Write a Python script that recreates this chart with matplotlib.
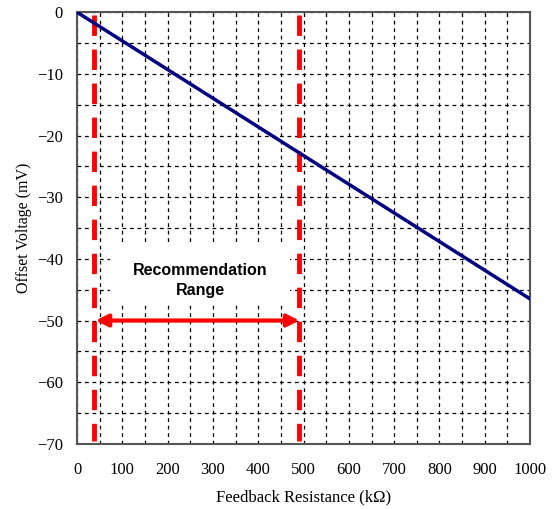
import numpy as np
import matplotlib.pyplot as plt
from matplotlib.patches import Rectangle

# data
resistance = [0, 1000]          # kOhm
offset = [0, -46.5]             # mV
range_lo = 38
range_hi = 489
arrow_y = -50

plt.rcParams['font.family'] = ['Liberation Serif', 'DejaVu Serif']

fig = plt.figure(figsize=(5.58, 5.09), dpi=100)
ax = fig.add_axes([0.138, 0.128, 0.812, 0.848])

ax.set_xlim(0, 1000)
ax.set_ylim(-70, 0)
ax.set_xticks(np.arange(0, 1001, 100))
ax.set_yticks(np.arange(-70, 1, 10))
ax.set_xticks(np.arange(0, 1001, 50), minor=True)
ax.set_yticks(np.arange(-70, 1, 5), minor=True)
ax.grid(which='both', color='black', linestyle=(0, (3, 3)), linewidth=0.9)
ax.tick_params(which='both', length=0, labelsize=12)
ax.tick_params(axis='x', pad=13)
ax.tick_params(axis='y', pad=10)
for s in ax.spines.values():
    s.set_color('#555555')
    s.set_linewidth(1.5)

# white label area hiding the grid
ax.add_patch(Rectangle((73, -47), 397, 9.2, facecolor='white',
                       edgecolor='none', zorder=2))

# recommendation range markers
for xv in (range_lo, range_hi):
    ax.plot([xv, xv], [-0.5, -69.5], color='red', linewidth=3.5,
            linestyle=(0, (4.2, 2.8)), zorder=3)

ax.plot(resistance, offset, color='#000080', linewidth=2.5, zorder=4)

ax.annotate('', xy=(range_lo + 3, arrow_y), xytext=(range_hi + 2, arrow_y),
            arrowprops=dict(arrowstyle='<|-|>', color='red', lw=3,
                            mutation_scale=18, shrinkA=0, shrinkB=0), zorder=5)
ax.text(272, -43.5, 'Recommendation\nRange', ha='center', va='center',
        fontsize=11.5, fontweight='bold', family=['Liberation Sans'],
        linespacing=1.35, zorder=5)

ax.set_xlabel('Feedback Resistance (kΩ)', fontsize=12, labelpad=8)
ax.set_ylabel('Offset Voltage (mV)', fontsize=11.5, labelpad=4)

fig.savefig('out.png', dpi=100)
